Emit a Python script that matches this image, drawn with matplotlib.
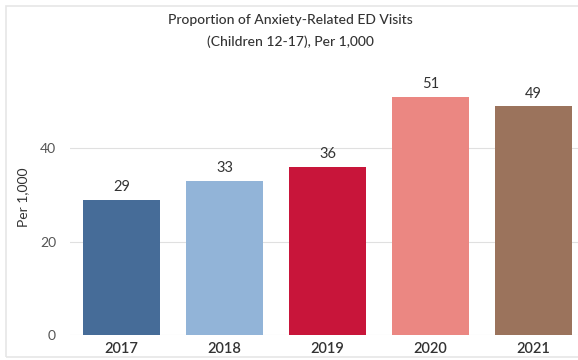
import matplotlib.pyplot as plt
from matplotlib.patches import Rectangle

years = ["2017", "2018", "2019", "2020", "2021"]
rates = [29, 33, 36, 51, 49]
colors = ["#466C98", "#92B4D8", "#C8153A", "#EB8782", "#9B735C"]

plt.rcParams["font.family"] = ["Lato", "DejaVu Sans"]

fig = plt.figure(figsize=(5.78, 3.6), dpi=100)
ax = fig.add_axes([70 / 578, 25 / 360, 508 / 578, 275 / 360])

x = range(len(years))
bars = ax.bar(x, rates, width=0.75, color=colors, zorder=2)
for b, v in zip(bars, rates):
    ax.text(b.get_x() + b.get_width() / 2, v + 1.2, str(v),
            ha="center", va="bottom", fontsize=10.5, color="#333333")

ax.set_xlim(-0.5, 4.43)
ax.set_ylim(0, 58.9)
ax.set_xticks(list(x))
ax.set_xticklabels(years, fontsize=10.5, color="#333333", fontweight="semibold")
ax.set_yticks([0, 20, 40])
ax.set_yticklabels(["0", "20", "40"], fontsize=10, color="#555555")
ax.tick_params(axis="x", length=0, pad=5)
ax.tick_params(axis="y", length=0, pad=10)
ax.grid(axis="y", color="#e0e0e0", linewidth=0.8, zorder=0)
for s in ax.spines.values():
    s.set_visible(False)
ax.set_ylabel("Per 1,000", fontsize=10, color="#333333", labelpad=8)

fig.text(0.502, 1 - 20 / 360, "Proportion of Anxiety-Related ED Visits",
         ha="center", va="center", fontsize=10, color="#333333",
         fontweight="medium")
fig.text(0.502, 1 - 42 / 360, "(Children 12-17), Per 1,000",
         ha="center", va="center", fontsize=10, color="#333333",
         fontweight="medium")

fig.patches.append(Rectangle((6 / 578, 3 / 360), 1.2, 1 - 9 / 360,
                             transform=fig.transFigure, fill=False,
                             edgecolor="#e6e6e6", linewidth=1.2))

fig.savefig("out.png", dpi=100)
